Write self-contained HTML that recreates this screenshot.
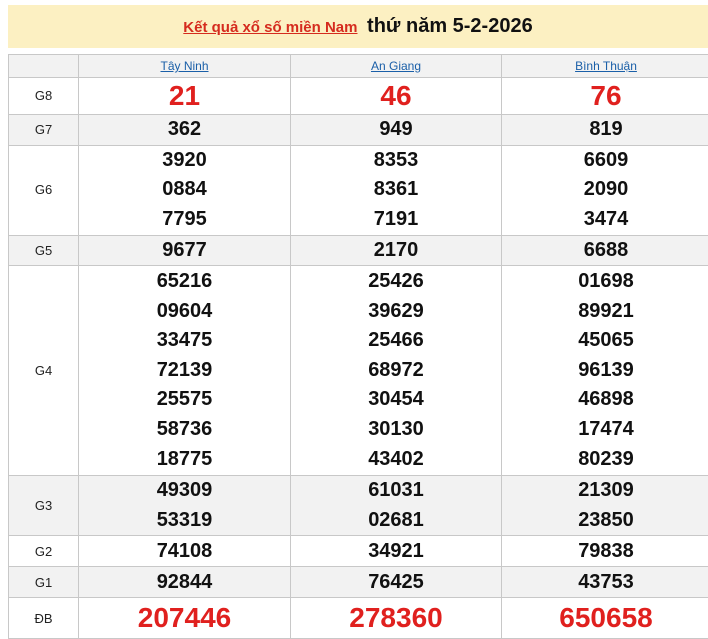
<!DOCTYPE html>
<html><head><meta charset="utf-8"><style>
body{margin:0;width:708px;height:639px;background:#fff;font-family:"Liberation Sans",Arial,sans-serif;overflow:hidden;position:relative}
.hd{position:absolute;left:8px;top:5px;width:700px;height:43px;background:#fcf0c2;text-align:center;line-height:43px;font-weight:bold;font-size:20px;color:#111}
.hd a{color:#d52b1e;font-size:15px;text-decoration:underline;margin-right:4px}
table{position:absolute;left:8px;top:54px;width:702px;border-collapse:collapse;table-layout:fixed}
td{border:1px solid #c8c8c8;text-align:center;padding:0;font-weight:bold;font-size:20px;color:#111;line-height:29.6px}
td.l{font-weight:normal;font-size:13px;color:#222}
tr.g td{background:#f2f2f2}
th{border:1px solid #c8c8c8;background:#f2f2f2;font-weight:normal;font-size:12px;height:22px;padding:0;line-height:22px}
th a{color:#1a5fa8;text-decoration:underline}
.r{color:#e0201e;font-size:28px;line-height:30px}
</style></head><body>
<div class="hd"><a>Kết quả xổ số miền Nam</a> thứ năm 5-2-2026</div>
<table>
<colgroup><col style="width:70px"><col style="width:212px"><col style="width:211px"><col style="width:209px"></colgroup>
<tr><th></th><th><a>Tây Ninh</a></th><th><a>An Giang</a></th><th><a>Bình Thuận</a></th></tr>
<tr style="height:37px"><td class="l">G8</td><td class="r">21</td><td class="r">46</td><td class="r">76</td></tr>
<tr class="g" style="height:30px"><td class="l">G7</td><td>362</td><td>949</td><td>819</td></tr>
<tr style="height:90px"><td class="l">G6</td><td>3920<br>0884<br>7795</td><td>8353<br>8361<br>7191</td><td>6609<br>2090<br>3474</td></tr>
<tr class="g" style="height:30px"><td class="l">G5</td><td>9677</td><td>2170</td><td>6688</td></tr>
<tr style="height:210px"><td class="l">G4</td><td>65216<br>09604<br>33475<br>72139<br>25575<br>58736<br>18775</td><td>25426<br>39629<br>25466<br>68972<br>30454<br>30130<br>43402</td><td>01698<br>89921<br>45065<br>96139<br>46898<br>17474<br>80239</td></tr>
<tr class="g" style="height:60px"><td class="l">G3</td><td>49309<br>53319</td><td>61031<br>02681</td><td>21309<br>23850</td></tr>
<tr style="height:31px"><td class="l">G2</td><td>74108</td><td>34921</td><td>79838</td></tr>
<tr class="g" style="height:31px"><td class="l">G1</td><td>92844</td><td>76425</td><td>43753</td></tr>
<tr style="height:41px"><td class="l">ĐB</td><td class="r">207446</td><td class="r">278360</td><td class="r">650658</td></tr>
</table>
</body></html>
